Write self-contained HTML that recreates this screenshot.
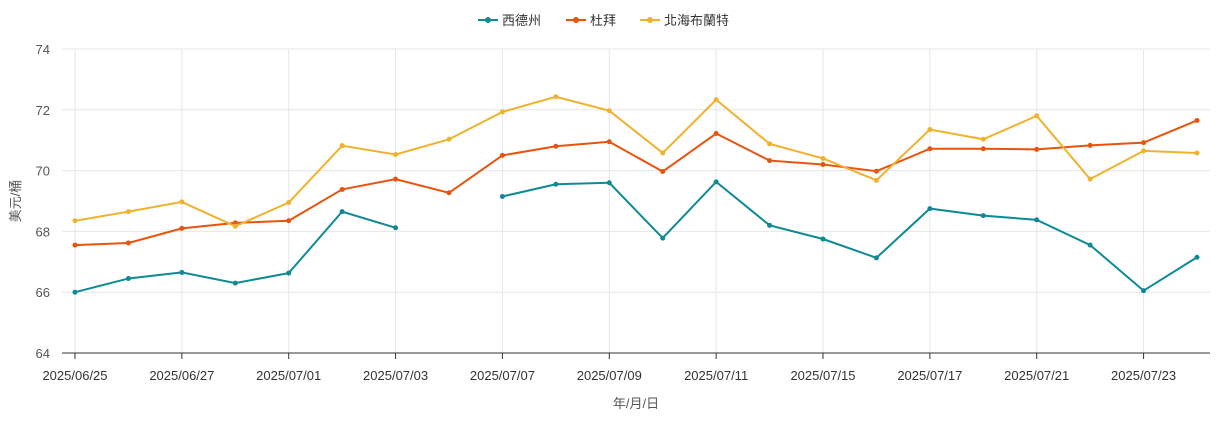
<!DOCTYPE html>
<html><head><meta charset="utf-8"><style>
body{margin:0;background:#fff;font-family:"Liberation Sans","Noto Sans CJK TC",sans-serif;}
svg text{font-family:"Liberation Sans","Noto Sans CJK TC",sans-serif;}
</style></head><body>
<svg id="c" width="1218" height="419"></svg>
<script>
const categories=["2025/06/25","2025/06/26","2025/06/27","2025/06/30","2025/07/01","2025/07/02","2025/07/03","2025/07/04","2025/07/07","2025/07/08","2025/07/09","2025/07/10","2025/07/11","2025/07/14","2025/07/15","2025/07/16","2025/07/17","2025/07/18","2025/07/21","2025/07/22","2025/07/23","2025/07/24"];
const wti=[66.0,66.45,66.65,66.3,66.63,68.65,68.12,null,69.15,69.55,69.6,67.78,69.63,68.2,67.75,67.13,68.75,68.52,68.38,67.55,66.05,67.15];
const dubai=[67.55,67.62,68.1,68.28,68.35,69.38,69.72,69.27,70.5,70.8,70.95,69.97,71.22,70.33,70.2,69.98,70.72,70.72,70.7,70.83,70.92,71.65];
const brent=[68.35,68.65,68.97,68.17,68.95,70.82,70.53,71.03,71.93,72.43,71.97,70.58,72.33,70.88,70.4,69.68,71.35,71.03,71.8,69.72,70.65,70.58];
const yTicks=[64,66,68,70,72,74];
const seriesNames=["西德州","杜拜","北海布蘭特"];
const colors=["#0e8a94","#e8530e","#f0b22d"];
const NS="http://www.w3.org/2000/svg",svg=document.getElementById("c");
const L=62,R=1210,T=49,B=353;
const x=i=>75+i*(1197-75)/(categories.length-1);
const y=v=>B-(v-64)/(74-64)*(B-T);
function mk(t,a,p){const e=document.createElementNS(NS,t);for(const k in a)e.setAttribute(k,a[k]);(p||svg).appendChild(e);return e;}
yTicks.forEach(v=>{
 const g=mk("line",{x1:L,x2:R,y1:y(v),y2:y(v),stroke:"#e6e6e6"});
 
 
 const t=mk("text",{x:50,y:y(v)+5,"text-anchor":"end","font-size":13,fill:"#555"});t.textContent=v;
 
 
});
categories.forEach((c,i)=>{
 if(i%2)return;
 const g=mk("line",{x1:x(i),x2:x(i),y1:T,y2:B,stroke:"#e6e6e6"});
 
 
 mk("line",{x1:x(i),x2:x(i),y1:B,y2:B+6,stroke:"#333"});
 const t=mk("text",{x:x(i),y:B+27,"text-anchor":"middle","font-size":13,fill:"#333"});t.textContent=c;
 
 
});
const ax=mk("line",{x1:L,x2:R,y1:B,y2:B,stroke:"#333"});


[wti,dubai,brent].forEach((d,s)=>{
 let path="",pen=false;
 d.forEach((v,i)=>{if(v==null){pen=false;return;}path+=(pen?"L":"M")+x(i)+","+y(v);pen=true;});
 const p=mk("path",{d:path,fill:"none",stroke:colors[s],"stroke-width":2});
 
 
 d.forEach((v,i)=>{if(v==null)return;
  const c=mk("circle",{cx:x(i),cy:y(v),r:2.5,fill:colors[s]});
  
  
 });
});
const lx=[478,566,640];
seriesNames.forEach((n,s)=>{
 const g=mk("g",{});
 
 
 mk("line",{x1:lx[s],x2:lx[s]+20,y1:20,y2:20,stroke:colors[s],"stroke-width":2},g);
 mk("circle",{cx:lx[s]+10,cy:20,r:3,fill:colors[s]},g);
 const t=mk("text",{x:lx[s]+24,y:25,"font-size":13,fill:"#333"},g);t.textContent=n;
});
const yt=mk("text",{x:20,y:201,"text-anchor":"middle","font-size":13,fill:"#555",transform:"rotate(-90 20 201)"});yt.textContent="美元/桶";


const xt=mk("text",{x:636,y:408,"text-anchor":"middle","font-size":13,fill:"#555"});xt.textContent="年/月/日";


</script>
</body></html>
